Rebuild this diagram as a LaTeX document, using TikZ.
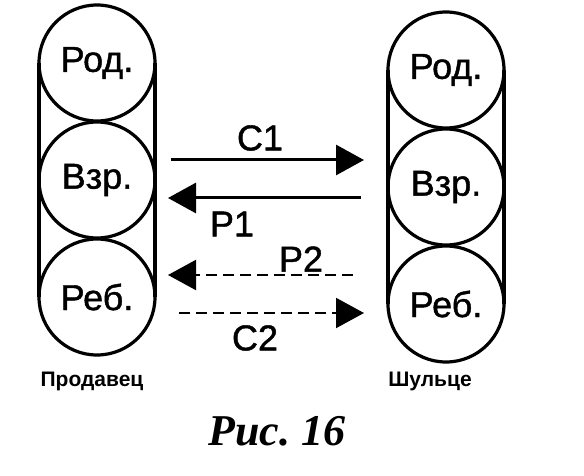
\documentclass[tikz,border=0pt]{standalone}
\usepackage{fontspec}
\setmainfont{Liberation Sans}
\newfontfamily\heavyfont[FakeBold=1.2]{Liberation Sans}
\newfontfamily\capfont{Liberation Serif}
\usetikzlibrary{arrows.meta,calc}
\tikzset{
  ball/.style={circle,draw,line width=3.2pt,minimum size=116pt,inner sep=0pt,outer sep=0pt,
    font=\heavyfont\fontsize{36}{40}\selectfont},
  side/.style={line width=3.2pt},
  arr/.style={line width=3pt,-{Triangle[length=28pt,width=30pt]}},
  darr/.style={arr,line width=2pt,dash pattern=on 11pt off 6pt},
  lbl/.style={font=\heavyfont\fontsize{36}{40}\selectfont,inner sep=0pt},
  who/.style={font=\fontsize{21}{24}\selectfont\bfseries,inner sep=0pt},
}
\begin{document}
\begin{tikzpicture}[x=1pt,y=-1pt]
\path[use as bounding box,fill=white] (0,0) rectangle (584,476);
% left stack
\node[ball] (lr) at (97,63) {Род.};
\node[ball] (lv) at (97,180) {Взр.};
\node[ball] (lb) at (97,297) {Реб.};
\draw[side] (lr.west) -- (lb.west);
\draw[side] (lr.east) -- (lb.east);
% right stack
\node[ball] (rr) at (446,70) {Род.};
\node[ball] (rv) at (446,187) {Взр.};
\node[ball] (rb) at (446,304) {Реб.};
\draw[side] (rr.west) -- (rb.west);
\draw[side] (rr.east) -- (rb.east);
% arrows
\coordinate (c1s) at ($(lv.east)+(16,-20)$);
\draw[arr,shorten >=24pt] (c1s) -- (c1s -| rv.west);
\coordinate (p1s) at ($(rv.west)+(-27,11)$);
\draw[arr,shorten >=13pt] (p1s) -- (p1s -| lv.east);
\coordinate (p2s) at ($(rb.west)+(-35,-29)$);
\draw[darr,shorten >=13pt] (p2s) -- (p2s -| lb.east);
\coordinate (c2s) at ($(lb.east)+(24,16)$);
\draw[darr,shorten >=24pt] (c2s) -- (c2s -| rb.west);
% labels
\node[lbl] (tc1) at (260,138) {С1};
\node[lbl] (tp1) at (232,224) {Р1};
\node[lbl] (tp2) at (301,259) {Р2};
\node[lbl] (tc2) at (255,338) {С2};
\node[who] (ls) at (92,381) {Продавец};
\node[who] (rs) at (430,381) {Шульце};
\node[font=\capfont\bfseries\itshape\fontsize{44}{50}\selectfont,inner sep=0pt] (cap) at (277,431) {Рис.\ 16};
\end{tikzpicture}
\end{document}
